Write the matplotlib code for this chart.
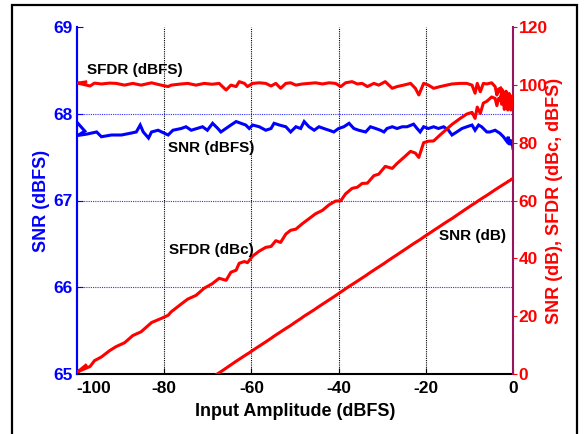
import matplotlib
matplotlib.use("Agg")
import matplotlib.pyplot as plt
import matplotlib.transforms as mtransforms
from matplotlib.patches import Rectangle
import numpy as np

plt.rcParams['font.family'] = ['Liberation Sans', 'DejaVu Sans']
plt.rcParams['font.weight'] = 'bold'

# SFDR (dBFS) measured vs input amplitude (dBFS)
sfdr_amp = [-98.0, -99.8, -97.0, -96.0, -94.4, -92.5, -91.0, -89.1, -87.2, -85.3,
            -82.9, -80.7, -79.1, -78.4, -76.1, -74.6, -72.7, -70.8, -69.0, -67.4,
            -65.8, -64.7, -63.5, -62.8, -61.6, -60.9, -59.7, -58.2, -56.7, -55.5,
            -54.4, -53.3, -52.1, -51.0, -49.8, -48.3, -46.8, -45.3, -43.7, -42.2,
            -40.7, -39.5, -38.4, -36.9, -35.7, -34.6, -33.4, -31.9, -30.8, -29.3,
            -27.7, -26.6, -25.1, -23.5, -22.4, -21.6, -20.5, -19.4, -18.2, -16.7,
            -15.2, -14.0, -12.1, -10.6, -9.4, -8.7, -8.2, -7.5, -6.8, -6.0,
            -4.9, -4.1, -3.7, -3.3, -3.0, -2.8, -2.6, -2.4, -2.2, -2.0,
            -1.8, -1.6, -1.4, -1.2, -1.1, -0.9, -0.7, -0.5, -0.3, -0.15, 0.0]
sfdr_dbfs = [101.0, 100.6, 99.6, 100.6, 100.3, 100.6, 100.5, 99.9, 100.5, 99.9,
             100.7, 99.9, 99.4, 99.9, 100.3, 100.5, 99.9, 100.5, 100.2, 100.5,
             98.2, 99.9, 99.4, 101.1, 100.5, 99.4, 100.5, 100.7, 100.5, 99.6,
             100.5, 98.8, 100.5, 100.7, 99.9, 100.3, 100.5, 100.7, 100.3, 100.7,
             100.5, 99.4, 100.7, 101.1, 100.3, 100.5, 99.4, 100.5, 99.9, 101.1,
             98.8, 99.4, 99.9, 100.5, 98.8, 96.5, 100.5, 99.9, 98.8, 99.4,
             99.9, 100.3, 100.5, 100.5, 99.9, 97.1, 100.5, 97.6, 100.5, 100.3,
             100.7, 99.4, 96.5, 98.6, 97.6, 99.0, 95.9, 98.2, 97.1, 93.5,
             94.8, 97.8, 96.5, 92.5, 94.2, 97.0, 95.9, 91.8, 93.6, 96.2, 95.3]

# SNR (dBFS) measured vs input amplitude (dBFS)
snr_amp = [-99.8, -98.2, -99.8, -97.8, -95.5, -94.4, -92.1, -89.8, -87.8, -86.4,
           -85.5, -84.8, -83.6, -82.9, -81.4, -79.1, -78.0, -76.1, -75.0, -73.8,
           -71.2, -70.1, -68.9, -67.7, -67.0, -64.7, -63.5, -62.4, -61.3, -60.5,
           -59.7, -58.2, -56.7, -55.5, -54.8, -53.6, -52.1, -51.0, -49.8, -48.7,
           -47.9, -46.8, -45.6, -44.5, -43.4, -42.2, -41.1, -40.0, -38.8, -37.6,
           -36.5, -35.4, -33.8, -32.7, -31.5, -30.4, -29.6, -28.9, -27.7, -26.6,
           -25.4, -24.3, -22.8, -22.0, -21.3, -20.5, -19.4, -18.2, -17.1, -15.9,
           -14.8, -14.0, -12.9, -11.7, -10.6, -9.4, -8.7, -7.9, -7.2, -6.0,
           -5.3, -4.1, -3.0, -2.2, -1.4, -1.1, -0.7, -0.3, 0.0]
snr_dbfs = [67.89, 67.80, 67.75, 67.765, 67.79, 67.735, 67.755, 67.755, 67.775, 67.79,
            67.87, 67.79, 67.72, 67.79, 67.81, 67.755, 67.81, 67.83, 67.85, 67.81,
            67.85, 67.81, 67.89, 67.83, 67.79, 67.87, 67.91, 67.89, 67.87, 67.83,
            67.87, 67.85, 67.81, 67.83, 67.89, 67.87, 67.85, 67.79, 67.85, 67.83,
            67.91, 67.85, 67.81, 67.85, 67.83, 67.81, 67.79, 67.83, 67.85, 67.89,
            67.83, 67.81, 67.79, 67.85, 67.83, 67.81, 67.79, 67.83, 67.85, 67.83,
            67.85, 67.85, 67.88, 67.83, 67.79, 67.85, 67.83, 67.85, 67.83, 67.85,
            67.81, 67.755, 67.79, 67.83, 67.85, 67.87, 67.81, 67.87, 67.85, 67.79,
            67.79, 67.81, 67.775, 67.735, 67.68, 67.735, 67.64, 67.70, 67.60]

# carrier-referred quantities (dBc / dB) = full-scale-referred + input amplitude
sfdr_dbc = np.array(sfdr_dbfs) + np.array(sfdr_amp)
snr_db = np.array(snr_dbfs) + np.array(snr_amp)

x_ticks = [-100, -80, -60, -40, -20, 0]
left_ticks = [65, 66, 67, 68, 69]
right_ticks = [0, 20, 40, 60, 80, 100, 120]

W, H = 586, 434
fig = plt.figure(figsize=(W / 100, H / 100), dpi=100)
ax1 = fig.add_axes([77 / W, 1 - 374 / H, 436 / W, 347 / H])
ax2 = ax1.twinx()

BLUE = '#0000FF'
RED = '#FF0000'
PURPLE = '#99145F'

ax1.set_xlim(-100, 0)
ax1.set_ylim(65, 69)
ax2.set_ylim(0, 120)

# grids
for v in [66, 67, 68]:
    ax1.axhline(v, color='#3030FF', lw=0.8, ls=(0, (1, 1)), zorder=0)
for v in [-80, -60, -40, -20]:
    ax1.axvline(v, color='black', lw=0.8, ls=(0, (1, 1)), zorder=0)

ax1.plot(snr_amp, snr_dbfs, color=BLUE, lw=2.2, solid_joinstyle='miter', zorder=3)
ax2.plot(sfdr_amp, sfdr_dbfs, color=RED, lw=2.2, zorder=3)
ax2.plot(sfdr_amp, sfdr_dbc, color=RED, lw=2.2, zorder=3)
ax2.plot(snr_amp, snr_db, color=RED, lw=2.2, zorder=3)

ax1.set_xticks(x_ticks)
ax1.set_xticklabels([str(t) for t in x_ticks])
ax1.set_yticks(left_ticks)
ax2.set_yticks(right_ticks)

ax1.tick_params(axis='x', direction='in', length=4, labelsize=12.5, pad=5, colors='black')
ax1.tick_params(axis='y', direction='in', length=4, labelsize=12.5, colors=BLUE, pad=3)
ax2.tick_params(axis='y', direction='out', length=3, labelsize=12.5, colors=RED, pad=1)
for lab in ax1.get_xticklabels() + ax1.get_yticklabels() + ax2.get_yticklabels():
    lab.set_fontweight('bold')

# shift -100 label like in the reference
lab0 = ax1.get_xticklabels()[0]
lab0.set_transform(lab0.get_transform() + mtransforms.ScaledTranslation(17 / 100, 0, fig.dpi_scale_trans))

for ax in (ax1, ax2):
    ax.spines['top'].set_visible(False)
ax1.spines['right'].set_visible(False)
ax2.spines['left'].set_color(BLUE)
ax1.spines['left'].set_color(BLUE)
ax1.spines['left'].set_linewidth(1.5)
ax2.spines['left'].set_linewidth(1.5)
ax2.spines['right'].set_color(PURPLE)
ax2.spines['right'].set_linewidth(1.5)
ax1.spines['bottom'].set_color('black')
ax1.spines['bottom'].set_linewidth(1.5)
ax2.spines['bottom'].set_visible(False)

ax1.set_xlabel('Input Amplitude (dBFS)', fontsize=13, fontweight='bold', color='black')
ax1.set_ylabel('SNR (dBFS)', fontsize=13, fontweight='bold', color=BLUE)
ax2.set_ylabel('SNR (dB), SFDR (dBc, dBFS)', fontsize=13, fontweight='bold', color=RED)
ax1.xaxis.set_label_coords(0.5, -0.085)
ax1.yaxis.set_label_coords(-0.062, 0.5)
ax2.yaxis.set_label_coords(1.075, 0.5)

# annotations (right-axis coordinates)
ax2.text(-97.6, 105.1, 'SFDR (dBFS)', fontsize=11, fontweight='bold', va='center', ha='left')
ax2.text(-79.1, 78.2, 'SNR (dBFS)', fontsize=11, fontweight='bold', va='center', ha='left')
ax2.text(-78.9, 42.9, 'SFDR (dBc)', fontsize=11, fontweight='bold', va='center', ha='left')
ax2.text(-16.9, 47.7, 'SNR (dB)', fontsize=11, fontweight='bold', va='center', ha='left')

# figure border
fig.patches.append(Rectangle((12 / W, -0.02), (577 - 12) / W, 1 - 5 / H + 0.02,
                             transform=fig.transFigure, fill=False, edgecolor='black',
                             lw=1.6, zorder=10))

fig.savefig('out.png', dpi=100)
